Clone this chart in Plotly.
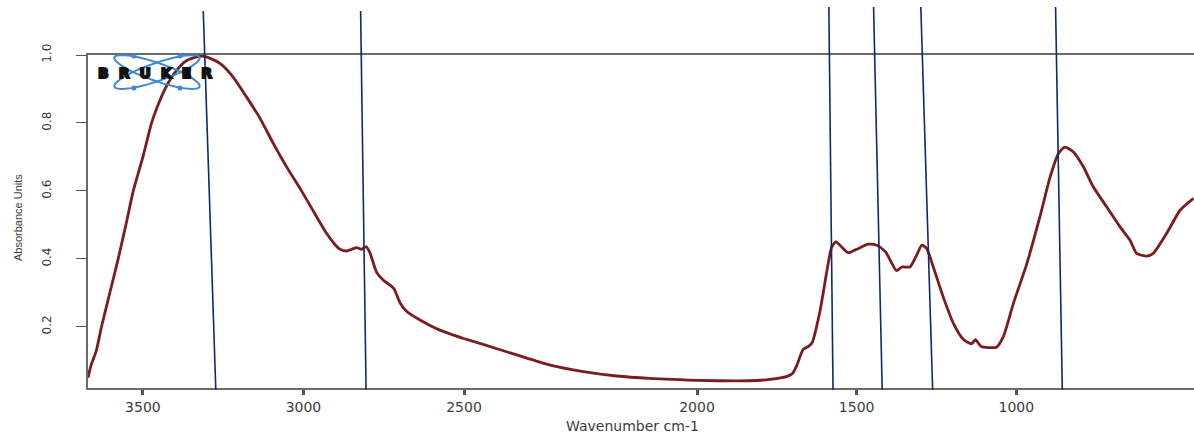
import math
import plotly.graph_objects as go

# ---------------- data ----------------
wavenumber = [3671, 3662, 3645, 3629, 3603, 3577, 3553, 3530, 3500, 3473, 3452, 3431,
              3410, 3395, 3370, 3348, 3316, 3290, 3260, 3219, 3177, 3136, 3094, 3052,
              3006, 2969, 2928, 2900, 2886, 2865, 2850, 2834, 2819, 2805, 2793, 2772,
              2751, 2731, 2718, 2699, 2678, 2637, 2575, 2500, 2459, 2387, 2315, 2244,
              2172, 2101, 2000, 1938, 1834, 1771, 1720, 1700, 1688, 1667, 1651, 1640,
              1615, 1594, 1578, 1565, 1547, 1526, 1500, 1463, 1437, 1410, 1375, 1359,
              1333, 1312, 1296, 1281, 1260, 1229, 1197, 1166, 1140, 1128, 1110, 1062,
              1041, 1009, 967, 926, 894, 868, 848, 822, 790, 759, 717, 675, 644, 623,
              592, 571, 529, 487, 445]
absorbance = [0.05, 0.085, 0.13, 0.20, 0.30, 0.40, 0.50, 0.60, 0.70, 0.80, 0.855, 0.90,
              0.935, 0.955, 0.98, 0.99, 0.997, 0.99, 0.975, 0.935, 0.876, 0.815, 0.74, 0.67,
              0.60, 0.54, 0.475, 0.44, 0.428, 0.423, 0.428, 0.433, 0.428, 0.436, 0.418, 0.36,
              0.337, 0.323, 0.312, 0.27, 0.245, 0.22, 0.19, 0.165, 0.148, 0.117, 0.087, 0.068,
              0.055, 0.048, 0.042, 0.041, 0.041, 0.045, 0.053, 0.063, 0.085, 0.134, 0.142, 0.152,
              0.245, 0.36, 0.435, 0.450, 0.435, 0.418, 0.428, 0.443, 0.440, 0.421, 0.365, 0.376,
              0.376, 0.411, 0.440, 0.431, 0.376, 0.288, 0.21, 0.163, 0.15, 0.162, 0.142, 0.140,
              0.17, 0.269, 0.386, 0.524, 0.641, 0.71, 0.729, 0.715, 0.671, 0.612, 0.553, 0.494,
              0.455, 0.416, 0.408, 0.416, 0.475, 0.543, 0.578]

x_ticks = [3500, 3000, 2500, 2000, 1500, 1000]
x_tick_labels = ["3500", "3000", "2500", "2000", "1500", "1000"]
y_ticks = [0.2, 0.4, 0.6, 0.8, 1.0]
y_tick_labels = ["0.2", "0.4", "0.6", "0.8", "1.0"]

# marker lines drawn over the spectrum: wavenumber at top end / bottom end
marker_top = [3312, 2822, 1587, 1447, 1299, 877]
marker_bottom = [3273, 2805, 1574, 1420, 1262, 856]

x_title = "Wavenumber cm-1"
y_title = "Absorbance Units"
logo_text = "BRUKER"

# the reference axis is piecewise: break points of the wavenumber scale
segments = [(3671, 2500), (2500, 2000), (2000, 443.5)]
# ----------------------------------------------------------------

W, H = 1194, 434
L, R, T, B = 88, 0, 55, 46
plot_w = W - L - R
plot_h = H - T - B
seg_px = [(88, 464), (464, 697), (697, 1194)]
domains = [((a - L) / plot_w, (b - L) / plot_w) for a, b in seg_px]

curve_color = "#7b1c1e"
line_color = "#0b2a72"
axis_color = "#6a6a6a"
tick_font = dict(family="DejaVu Sans", size=14, color="#3c3c3c")

fig = go.Figure()
axis_names = ["x", "x2", "x3"]
for i, (hi, lo) in enumerate(segments):
    xs, ys = [], []
    for w, a in zip(wavenumber, absorbance):
        if lo <= w <= hi:
            xs.append(w)
            ys.append(a)
    fig.add_trace(go.Scatter(x=xs, y=ys, mode="lines", xaxis=axis_names[i], yaxis="y",
                             line=dict(color=curve_color, width=2.8, shape="spline", smoothing=0.6),
                             showlegend=False, hoverinfo="skip"))

for i, (hi, lo) in enumerate(segments):
    if i == 0:
        tv = [t for t in x_ticks if t >= 2500]
    elif i == 1:
        tv = []
    else:
        tv = [t for t in x_ticks if t <= 2000]
    tt = [x_tick_labels[x_ticks.index(t)] for t in tv]
    ax = dict(domain=list(domains[i]), range=[hi, lo], anchor="y",
              tickmode="array", tickvals=tv, ticktext=tt,
              ticks="outside", ticklen=5, tickwidth=2.5, tickcolor="#555",
              showline=True, linecolor=axis_color, linewidth=2, mirror=True,
              showgrid=False, zeroline=False, tickfont=tick_font,
              ticklabelstandoff=0, automargin=False)
    key = "xaxis" if i == 0 else f"xaxis{i + 1}"
    fig.layout[key] = ax

fig.update_layout(
    yaxis=dict(range=[0.0197, 1.0], tickmode="array", tickvals=y_ticks, ticktext=y_tick_labels,
               ticks="outside", ticklen=10, tickwidth=1.3, tickcolor="#555",
               showline=True, linecolor=axis_color, linewidth=2, mirror=False,
               showgrid=False, zeroline=False, tickangle=-90,
               tickfont=dict(family="DejaVu Sans", size=12, color="#3c3c3c"),
               ticklabelstandoff=20, anchor="x", automargin=False),
    width=W, height=H,
    margin=dict(l=L, r=R, t=T, b=B, pad=0),
    paper_bgcolor="white", plot_bgcolor="white",
    showlegend=False,
)

# marker lines (extend above the plot)
for wt, wb in zip(marker_top, marker_bottom):
    xr = "x" if wt > 2500 else "x3"
    top_py = 11 if wt > 2500 else 7
    fig.add_shape(type="line", xref=xr, yref="paper", x0=wt, y0=(H - B - top_py) / plot_h,
                  x1=wb, y1=-0.005, line=dict(color=line_color, width=1.6), layer="above")

# axis titles
fig.add_annotation(text=x_title, xref="paper", yref="paper", x=(632 - L) / plot_w, y=0,
                   yshift=-38, showarrow=False, xanchor="center", yanchor="middle",
                   font=dict(family="DejaVu Sans", size=14, color="#3c3c3c"))
fig.add_annotation(text=y_title, xref="paper", yref="paper", x=0, y=(H - B - 218) / plot_h,
                   xshift=-(L - 18), showarrow=False, textangle=-90,
                   xanchor="center", yanchor="middle",
                   font=dict(family="Liberation Sans", size=11, color="#3c3c3c"))

# Bruker logo: orbits + word mark
def px_to_paper(px, py):
    return (px - L) / plot_w, (H - B - py) / plot_h

def ellipse_path(cx, cy, a, b, ang_deg, n=60):
    ang = math.radians(ang_deg)
    pts = []
    for k in range(n + 1):
        t = 2 * math.pi * k / n
        ex, ey = a * math.cos(t), b * math.sin(t)
        px = cx + ex * math.cos(ang) - ey * math.sin(ang)
        py = cy + ex * math.sin(ang) + ey * math.cos(ang)
        pts.append(px_to_paper(px, py))
    return "M " + " L ".join(f"{x:.5f},{y:.5f}" for x, y in pts) + " Z"

logo_blue = "#3a8ad6"
for ang in (19, -19):
    fig.add_shape(type="path", xref="paper", yref="paper", path=ellipse_path(157, 72, 45, 9, ang),
                  line=dict(color=logo_blue, width=2), layer="above")
for (dx, dy) in [(134, 56), (180, 56), (134, 88), (180, 88)]:
    x0, y0 = px_to_paper(dx - 2.5, dy + 2.5)
    x1, y1 = px_to_paper(dx + 2.5, dy - 2.5)
    fig.add_shape(type="circle", xref="paper", yref="paper", x0=x0, y0=y0, x1=x1, y1=y1,
                  fillcolor=logo_blue, line=dict(color=logo_blue, width=0), layer="above")
lx, ly = px_to_paper(160, 73)
fig.add_annotation(
    text=f"<span style='letter-spacing:10px;stroke:#111;stroke-width:1.8px'><b>{logo_text}</b></span>",
    xref="paper", yref="paper", x=lx, y=ly,
    showarrow=False, xanchor="center", yanchor="middle",
    font=dict(family="DejaVu Sans", size=14, color="#111"))

# the page's default body margin would shift the 1194x434 figure; remove it
fig.write_html("out.html", config={"displayModeBar": False},
               post_script="document.body.style.margin='0';document.body.style.overflow='hidden';")
